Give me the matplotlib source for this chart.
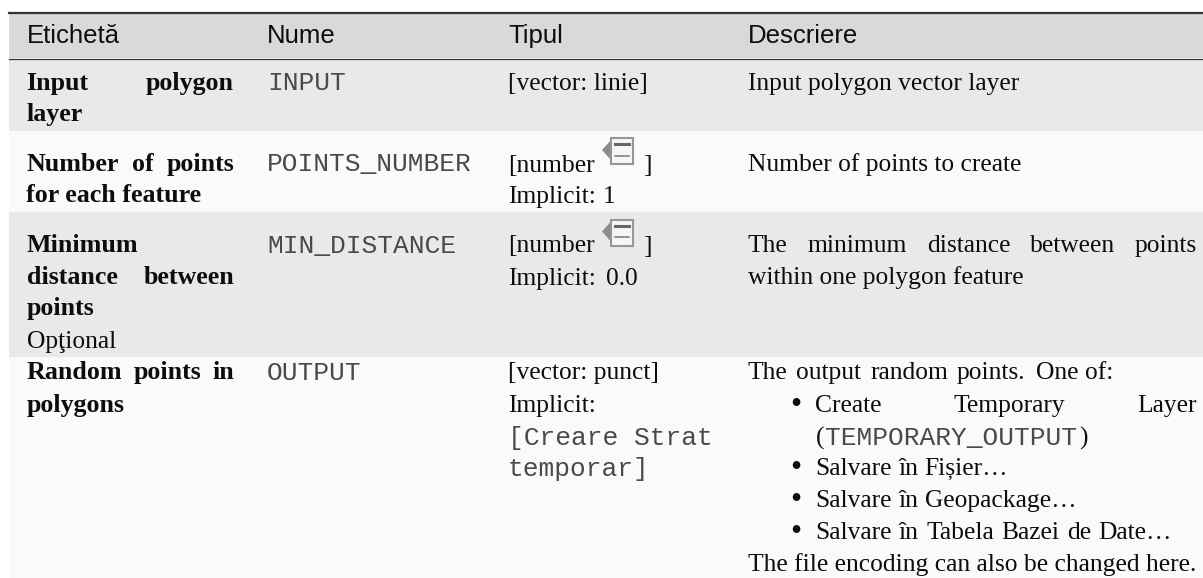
import matplotlib
matplotlib.use("Agg")
import matplotlib.pyplot as plt
from matplotlib.patches import Polygon, Rectangle

SERIF = "Liberation Serif"
SANS = "Liberation Sans"
MONO = "Liberation Mono"

headers = ["Etichetă", "Nume", "Tipul", "Descriere"]
names = ["INPUT", "POINTS_NUMBER", "MIN_DISTANCE", "OUTPUT"]
label_lines = [
    ["Input polygon", "layer"],
    ["Number of points", "for each feature"],
    ["Minimum", "distance between", "points"],
    ["Random points in", "polygons"],
]
optional_label = "Opţional"
types = ["[vector: linie]", "[number", "[number", "[vector: punct]"]
defaults = ["Implicit: 1", "Implicit: 0.0", "Implicit:"]
default_mono = ["[Creare Strat", "temporar]"]
desc_simple = ["Input polygon vector layer", "Number of points to create"]
desc_min = ["The minimum distance between points", "within one polygon feature"]
desc_out = ["The output random points.", "One of:"]
bullets = ["Create Temporary Layer", "Salvare în Fișier…", "Salvare în Geopackage…", "Salvare în Tabela Bazei de Date…"]
temp_output = "TEMPORARY_OUTPUT"
desc_end = "The file encoding can also be changed here."

X1, X2, X3, X4 = 26.5, 267, 508, 748
R1, R4 = 234, 1197
BODY = 18.4
BOLD = 18.7
MONOSIZE = 18.9
HEAD = 18.5
MONOCOL = "#4a4a4a"

fig = plt.figure(figsize=(12.03, 5.78), dpi=100)
ax = fig.add_axes([0, 0, 1, 1])
ax.set_xlim(0, 1203)
ax.set_ylim(578, 0)
ax.axis("off")

# row bands
for top, bottom, col in [(13, 58, "#d9d9d9"), (59, 131, "#e9e9e9"), (131, 212, "#fafafa"),
                         (212, 357, "#e9e9e9"), (357, 578, "#fafafa")]:
    ax.add_patch(Rectangle((9.3, top), 1194, bottom - top, fc=col, ec="none"))
ax.plot([9.3, 1203], [12.5, 12.5], color="#333333", lw=1.6)
ax.plot([9.3, 1203], [58.5, 58.5], color="#333333", lw=0.9)


def put(x, y, s, family=SERIF, size=BODY, weight="normal", color="#0d0d0d"):
    return ax.text(x, y, s, family=family, fontsize=size, weight=weight, color=color, va="baseline", ha="left")


def justify(x0, x1, y, s, weight="normal", size=BODY):
    # space the words out so the line fills the column
    words = s.split()
    rend = fig.canvas.get_renderer()
    items = [put(x0, y, w, weight=weight, size=size) for w in words]
    widths = [t.get_window_extent(rend).width for t in items]
    gap = (x1 - x0 - sum(widths)) / (len(words) - 1)
    x = x0
    for t, w in zip(items, widths):
        t.set_x(x)
        x += w + gap


def icon(y):
    ax.add_patch(Polygon([(602, y + 13), (611, y + 3), (611, y + 23)], fc="#8c8c8c", ec="none"))
    ax.add_patch(Rectangle((611, y + 1), 22, 26, fc="#f6f6f6", ec="#969696", lw=1.5))
    ax.plot([615, 629], [y + 7, y + 7], color="#666666", lw=2.2)
    ax.plot([615, 629], [y + 18.5, y + 18.5], color="#777777", lw=1.1)


for x, h in zip([X1, X2, X3, X4], headers):
    put(x, 43, h, family=SANS, size=HEAD)

# first column
justify(X1, R1, 90, label_lines[0][0], weight="bold", size=BOLD)
put(X1, 121, label_lines[0][1], weight="bold", size=BOLD)
justify(X1, R1, 171, label_lines[1][0], weight="bold", size=BOLD)
put(X1, 202, label_lines[1][1], weight="bold", size=BOLD)
put(X1, 252, label_lines[2][0], weight="bold", size=BOLD)
justify(X1, R1, 284, label_lines[2][1], weight="bold", size=BOLD)
put(X1, 315.5, label_lines[2][2], weight="bold", size=BOLD)
put(X1, 348, optional_label)
justify(X1, R1, 379, label_lines[3][0], weight="bold", size=BOLD)
put(X1, 412, label_lines[3][1], weight="bold", size=BOLD)

# names
for y, n in zip([90.5, 171.5, 252.5, 379.5], names):
    put(X2, y, n, family=MONO, size=MONOSIZE, color=MONOCOL)

# types
for y, t in zip([90, 171.5, 252, 379], types):
    put(X3, y, t)
justify(X3, 616, 203, defaults[0])
justify(X3, 638, 285, defaults[1])
put(X3, 412, defaults[2])
for y, d in zip([445, 476], default_mono):
    put(X3, y, d, family=MONO, size=MONOSIZE, color=MONOCOL)
for y in [137, 218.5]:
    icon(y)
    put(643, y + 34.5, "]")

# descriptions
put(X4, 90, desc_simple[0])
put(X4, 171, desc_simple[1])
justify(X4, R4, 252, desc_min[0])
put(X4, 284, desc_min[1])
justify(X4, 1025, 379, desc_out[0])
justify(1036, 1113, 379, desc_out[1])
justify(815, R4, 412, bullets[0])
put(815.5, 445, "(")
put(825, 445, temp_output, family=MONO, size=MONOSIZE, color=MONOCOL)
put(1079, 445, ")")
justify(815, 1008, 475, bullets[1])
justify(815, 1077, 507, bullets[2])
justify(815, 1172, 539, bullets[3])
for y in [412, 475, 507, 539]:
    put(790.5, y + 1, "•", size=23)
put(X4, 571, desc_end)

fig.savefig("out.png", dpi=100)
